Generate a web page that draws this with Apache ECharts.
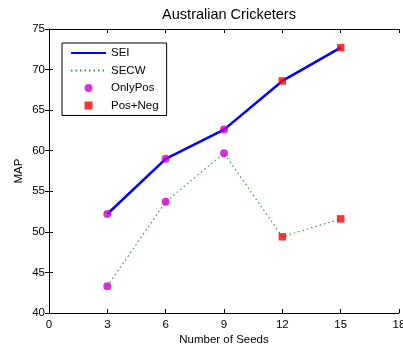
<!DOCTYPE html>
<html><head><meta charset="utf-8">
<script src="https://cdn.jsdelivr.net/npm/echarts@6/dist/echarts.min.js"></script>
<style>html,body{margin:0;padding:0;background:#fff}#c{width:403px;height:347px}</style>
</head><body><div id="c"></div>
<script>
const seeds = [3, 6, 9, 12, 15];
const seiValues = [52.2, 59.0, 62.6, 68.6, 72.7];
const secwValues = [43.3, 53.7, 59.7, 49.4, 51.6];
const onlyPosIdx = [0, 1, 2];
const posNegIdx = [3, 4];
const xTicks = [0, 3, 6, 9, 12, 15, 18];
const yTicks = [40, 45, 50, 55, 60, 65, 70, 75];

const pts = v => seeds.map((s, i) => [s, v[i]]);
const onlyPos = [];
const posNeg = [];
onlyPosIdx.forEach(i => { onlyPos.push([seeds[i], seiValues[i]]); onlyPos.push([seeds[i], secwValues[i]]); });
posNegIdx.forEach(i => { posNeg.push([seeds[i], seiValues[i]]); posNeg.push([seeds[i], secwValues[i]]); });

const font = 'Liberation Sans, Arial, sans-serif';
const axisCommon = {
  axisLine: { show: true, lineStyle: { color: '#000', width: 1 } },
  axisTick: { show: true, inside: true, length: 4, lineStyle: { color: '#000' } },
  splitLine: { show: false }
};
const chart = echarts.init(document.getElementById('c'), null, { renderer: 'canvas' });
chart.setOption({
  animation: false,
  backgroundColor: '#fff',
  textStyle: { fontFamily: font },
  title: { text: 'Australian Cricketers', left: 224, top: 2, textAlign: 'center',
    textStyle: { fontFamily: font, fontSize: 14.5, fontWeight: 'normal', color: '#000' } },
  grid: { left: 49, top: 29, width: 350, height: 284, containLabel: false, outerBoundsMode: 'none' },
  legend: {
    orient: 'vertical', left: 62, top: 43,
    backgroundColor: '#fff', borderColor: '#000', borderWidth: 1,
    padding: [4, 8, 4, 8], itemWidth: 35, itemHeight: 8, itemGap: 5.5,
    textStyle: { fontFamily: font, fontSize: 11.5, color: '#000' },
    data: [
      { name: 'SEI', itemStyle: { opacity: 0 } },
      { name: 'SECW', itemStyle: { opacity: 0 } },
      { name: 'OnlyPos', icon: 'circle' },
      { name: 'Pos+Neg', icon: 'path://M0,0H10V10H0Z' }
    ]
  },
  xAxis: [
    Object.assign({ type: 'value', min: 0, max: 18, interval: 3, position: 'bottom',
      axisLabel: { color: '#000', fontSize: 11.5, fontFamily: font, margin: 6 },
      name: 'Number of Seeds', nameLocation: 'middle', nameGap: 21, nameMoveOverlap: false,
      nameTextStyle: { color: '#000', fontSize: 11.5, fontFamily: font } }, axisCommon),
    Object.assign({ type: 'value', min: 0, max: 18, interval: 3, position: 'top',
      axisLabel: { show: false } }, axisCommon)
  ],
  yAxis: [
    Object.assign({ type: 'value', min: 40, max: 75, interval: 5, position: 'left',
      axisLabel: { color: '#000', fontSize: 11.5, fontFamily: font, margin: 4 },
      name: 'MAP', nameLocation: 'middle', nameGap: 24, nameMoveOverlap: false,
      nameTextStyle: { color: '#000', fontSize: 11.5, fontFamily: font } }, axisCommon),
    Object.assign({ type: 'value', min: 40, max: 75, interval: 5, position: 'right',
      axisLabel: { show: false } }, axisCommon)
  ],
  series: [
    { name: 'SEI', type: 'line', data: pts(seiValues), symbol: 'none', showSymbol: false,
      lineStyle: { color: '#0000ff', width: 2.5 }, itemStyle: { color: '#0000ff' }, z: 2 },
    { name: 'SECW', type: 'line', data: pts(secwValues), symbol: 'none', showSymbol: false,
      lineStyle: { color: '#3c9c3c', width: 1.2, type: [1.5, 3] }, itemStyle: { color: '#3c9c3c' }, z: 2 },
    { name: 'OnlyPos', type: 'scatter', data: onlyPos, symbol: 'circle', symbolSize: 8,
      itemStyle: { color: '#c800c8' }, z: 3 },
    { name: 'Pos+Neg', type: 'scatter', data: posNeg, symbol: 'rect', symbolSize: 7.5,
      itemStyle: { color: '#ff0000' }, z: 3 }
  ]
});
</script></body></html>
